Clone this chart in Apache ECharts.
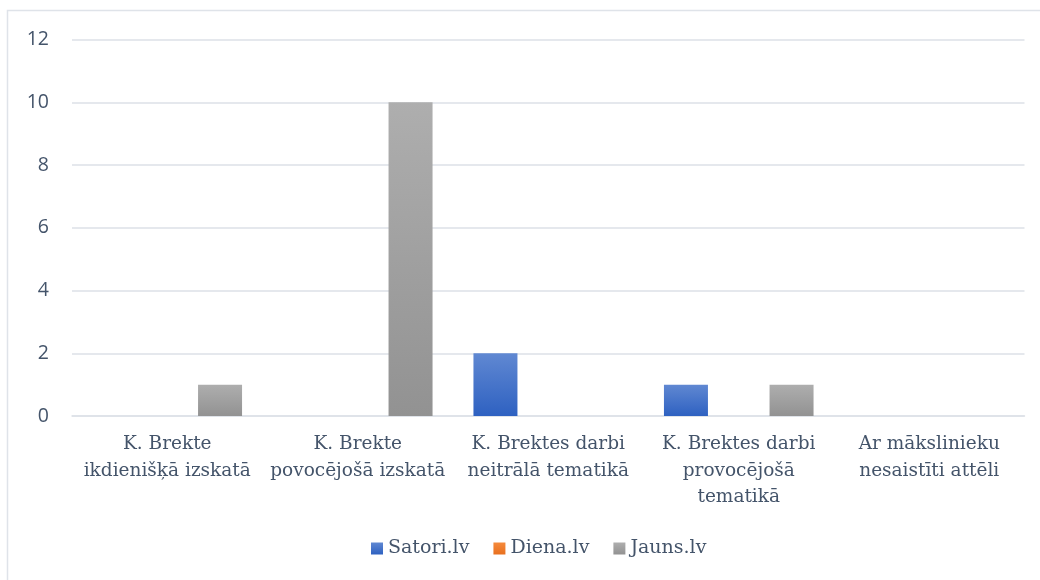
<!DOCTYPE html>
<html>
<head>
<meta charset="utf-8">
<script src="https://cdn.jsdelivr.net/npm/echarts@6/dist/echarts.min.js"></script>
<style>
  html, body { margin: 0; padding: 0; background: #fff; }
  #chart { width: 1040px; height: 580px; }
</style>
</head>
<body>
<div id="chart"></div>
<script>
const categories = [
  'K. Brekte\nikdienišķā izskatā',
  'K. Brekte\npovocējošā izskatā',
  'K. Brektes darbi\nneitrālā tematikā',
  'K. Brektes darbi\nprovocējošā\ntematikā',
  'Ar mākslinieku\nnesaistīti attēli'
];
const satori = [0, 0, 2, 1, 0];
const diena = [0, 0, 0, 0, 0];
const jauns = [1, 10, 0, 1, 0];

const TEXT = '#44546a';
const GRID = '#dde1e7';
const SERIF = 'DejaVu Serif';

function grad(top, bottom) {
  return new echarts.graphic.LinearGradient(0, 0, 0, 1, [
    { offset: 0, color: top },
    { offset: 1, color: bottom }
  ]);
}

const chart = echarts.init(document.getElementById('chart'), null, { renderer: 'canvas' });

chart.setOption({
  animation: false,
  graphic: [
    {
      type: 'rect',
      shape: { x: 7.5, y: 10.5, width: 1100, height: 700 },
      style: { fill: 'none', stroke: '#dfe3e9', lineWidth: 1.5 },
      silent: true
    }
  ],
  grid: { left: 72, right: 15.5, top: 39.5, bottom: 164 },
  legend: {
    bottom: 17,
    left: 366,
    itemWidth: 12,
    itemHeight: 12,
    itemGap: 24,
    icon: 'rect',
    textStyle: { fontFamily: SERIF, fontSize: 19, color: TEXT }
  },
  xAxis: {
    type: 'category',
    data: categories,
    axisLine: { lineStyle: { color: GRID, width: 1.5 } },
    axisTick: { show: false },
    axisLabel: {
      interval: 0,
      margin: 15,
      fontFamily: SERIF,
      fontSize: 18.5,
      lineHeight: 26.5,
      color: TEXT
    }
  },
  yAxis: {
    type: 'value',
    min: 0,
    max: 12,
    interval: 2,
    axisLine: { show: false },
    axisTick: { show: false },
    splitLine: { lineStyle: { color: GRID, width: 1.5 } },
    axisLabel: {
      margin: 23,
      fontFamily: 'Open Sans',
      fontSize: 19.5,
      color: TEXT
    }
  },
  series: [
    {
      name: 'Satori.lv',
      type: 'bar',
      data: satori,
      barWidth: 44,
      barGap: '20%',
      itemStyle: { color: grad('#6088d2', '#2e61c1') }
    },
    {
      name: 'Diena.lv',
      type: 'bar',
      data: diena,
      barWidth: 44,
      barGap: '20%',
      itemStyle: { color: grad('#f58a3c', '#e8701f') }
    },
    {
      name: 'Jauns.lv',
      type: 'bar',
      data: jauns,
      barWidth: 44,
      barGap: '20%',
      itemStyle: { color: grad('#aeaeae', '#929292') }
    }
  ]
});
</script>
</body>
</html>
